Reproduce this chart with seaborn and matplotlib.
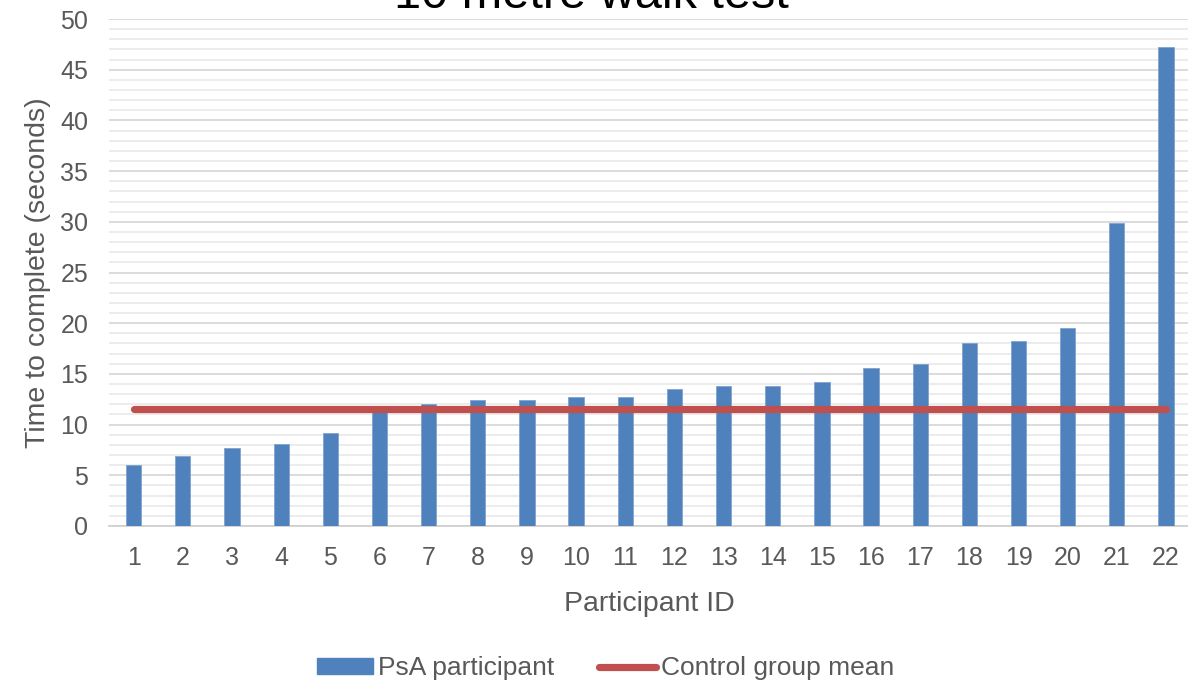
import numpy as np
import pandas as pd
import matplotlib
matplotlib.use("Agg")
import matplotlib.pyplot as plt
import seaborn as sns
from matplotlib.patches import Patch
from matplotlib.lines import Line2D
from matplotlib.ticker import MultipleLocator

# Ten metre walk test: time to complete per PsA participant
participant_ids = [str(i) for i in range(1, 23)]
walk_times = [6.0, 6.9, 7.7, 8.1, 9.2, 11.6, 12.0, 12.4, 12.4, 12.7, 12.7,
              13.5, 13.8, 13.8, 14.2, 15.6, 16.0, 18.0, 18.2, 19.5, 29.9, 47.2]
control_mean = 11.55

title_text = "10 metre walk test"
y_label = "Time to complete (seconds)"
x_label = "Participant ID"
bar_series = "PsA participant"
line_series = "Control group mean"

sns.set_theme(style="white")
plt.rcParams["font.family"] = ["Liberation Sans", "DejaVu Sans"]

bar_color = "#4f81bd"
line_color = "#c0504d"
text_color = "#595959"

df = pd.DataFrame({"participant": participant_ids, "time": walk_times})
df["control"] = control_mean
df["pos"] = np.arange(len(df))

fig = plt.figure(figsize=(11.88, 6.84), dpi=100)
ax = fig.add_axes([0.0918, 0.231, 0.9104, 0.7412])

sns.barplot(data=df, x="participant", y="time", color=bar_color,
            saturation=1, width=0.31, ax=ax, zorder=3,
            edgecolor="#7fa3d1", linewidth=0.6)
sns.lineplot(data=df, x="pos", y="control", color=line_color, lw=5.2,
             solid_capstyle="round", ax=ax, zorder=4)

ax.set_xlim(-0.5, len(df) - 0.5)
ax.set_ylim(0, 50)
ax.yaxis.set_major_locator(MultipleLocator(5))
ax.yaxis.set_minor_locator(MultipleLocator(1))
ax.grid(which="minor", axis="y", color="#ebebeb", lw=1.3, zorder=0)
ax.grid(which="major", axis="y", color="#d9d9d9", lw=1.3, zorder=0)
ax.grid(False, axis="x")
ax.set_axisbelow(True)

for side in ["top", "right", "left"]:
    ax.spines[side].set_visible(False)
ax.spines["bottom"].set_color("#d0d0d0")
ax.spines["bottom"].set_linewidth(1.3)

ax.tick_params(axis="both", which="both", length=0, labelsize=18,
               labelcolor=text_color)
ax.tick_params(axis="x", pad=14.5)
ax.tick_params(axis="y", pad=15)

ax.set_xlabel(x_label, fontsize=20.5, color=text_color, labelpad=15)
ax.set_ylabel(y_label, fontsize=20.5, color=text_color, labelpad=7)

fig.text(0.498, 0.988, title_text, ha="center", va="baseline",
         fontsize=35, color="#000000")

handles = [
    Patch(facecolor=bar_color, edgecolor=bar_color, label=bar_series),
    Line2D([0], [0], color=line_color, lw=5.2, solid_capstyle="round",
           label=line_series),
]
leg = fig.legend(handles=handles, loc="center", bbox_to_anchor=(0.5095, 0.023),
                 ncol=2, frameon=False, fontsize=19, handlelength=2.15,
                 handletextpad=0.18, columnspacing=1.7, handleheight=0.55)
for t in leg.get_texts():
    t.set_color(text_color)

fig.savefig("out.png", dpi=100)
